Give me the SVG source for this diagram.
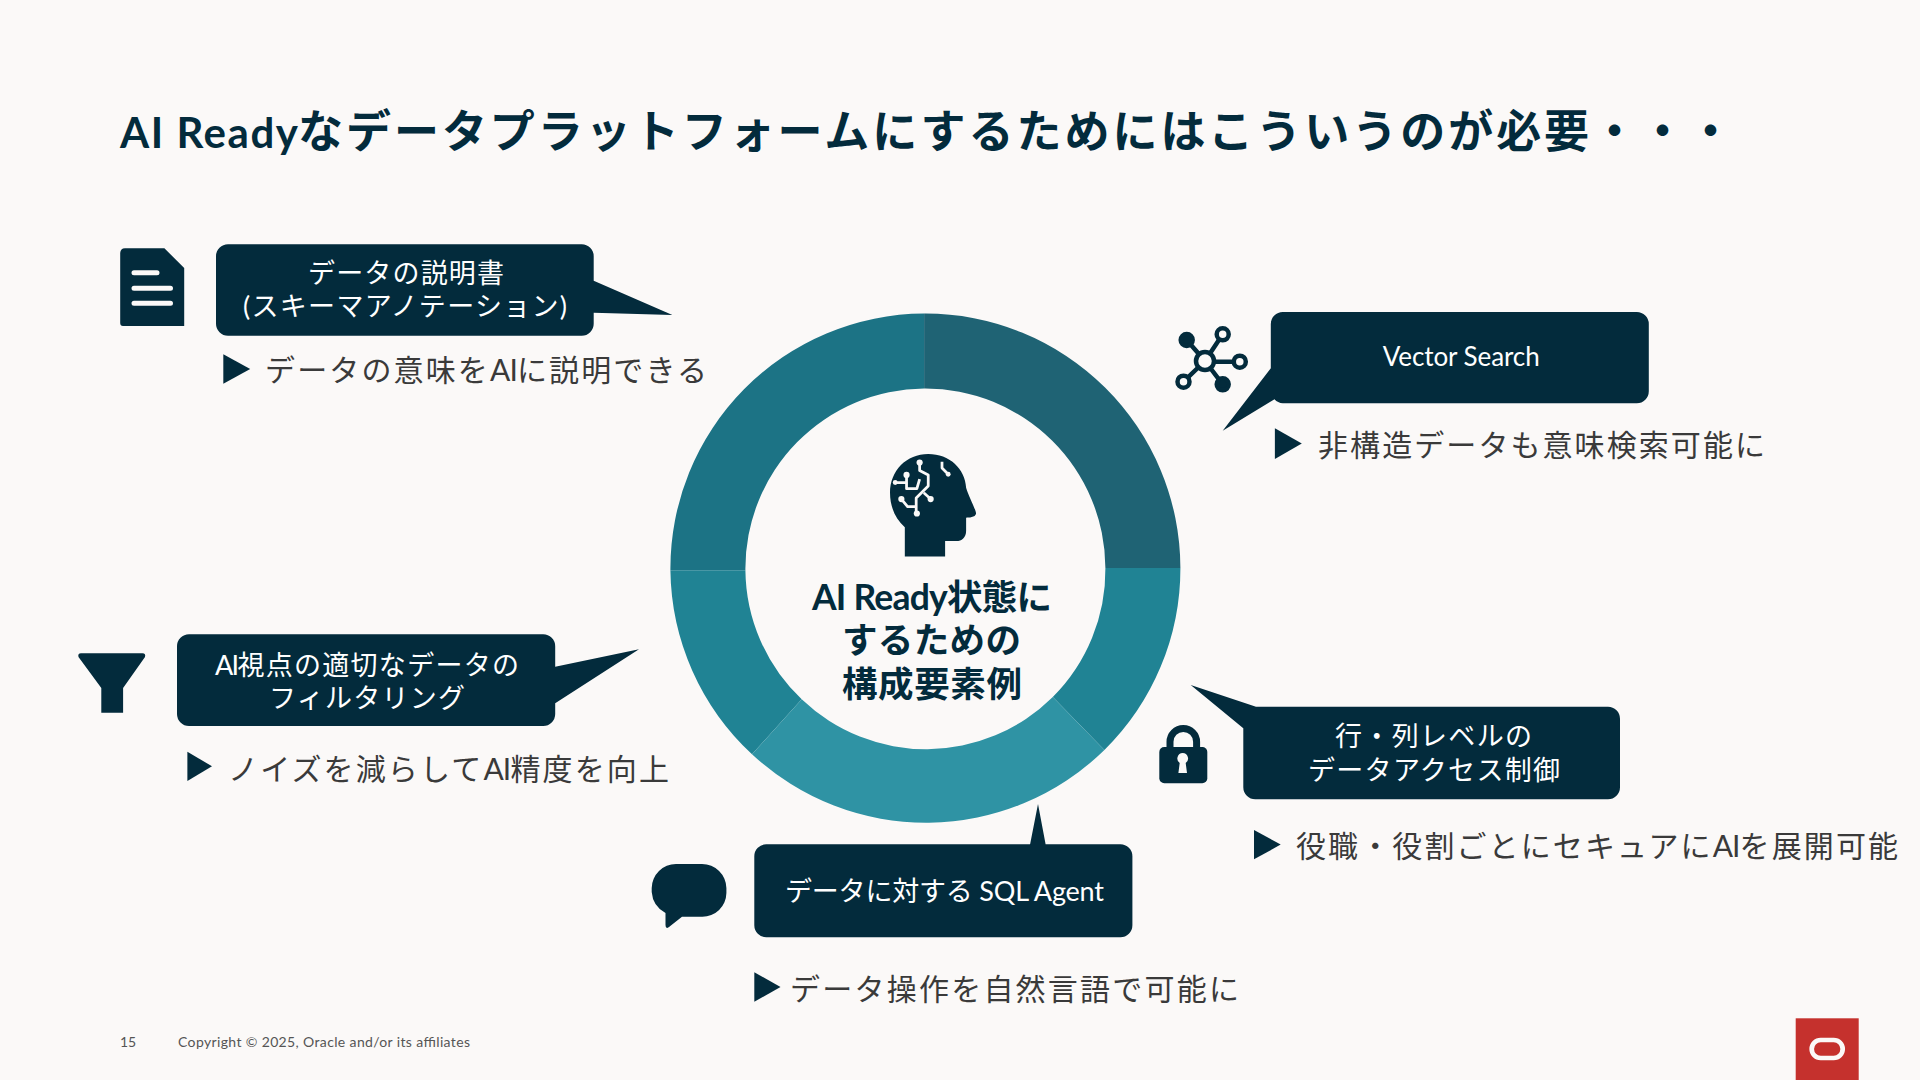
<svg xmlns="http://www.w3.org/2000/svg" width="1920" height="1080" viewBox="0 0 1920 1080">
<style>
text{font-family:Lato,"Noto Sans CJK JP",sans-serif}
.d{fill:#032b3c}
.bg{fill:#fbf9f8}
.t{font-size:45px;font-weight:700;fill:#032b3c}
.c{font-size:27px;fill:#fff}
.b{font-size:30px;fill:#3a3a3a}
.m{font-size:35.500px;font-weight:700;fill:#032b3c}
.f{font-size:14px;fill:#555}
.ln{stroke:#fbf9f8;stroke-width:5;stroke-linecap:round;fill:none}
.net{stroke:#032b3c;stroke-width:4.500;fill:none}
.a{letter-spacing:-3px}
</style>
<rect width="1920" height="1080" class="bg"/>
<g id="title">
<text class="t" x="120" y="148" textLength="178" style="font-size:42px">AI Ready</text>
<text class="t" x="298" y="148" textLength="1435">なデータプラットフォームにするためにはこういうのが必要・・・</text>
</g>

<g id="ring">
<path fill="#1c7385" d="M670.400 570.300A255 255 0 0 1 924.100 313.500V388.500A180 180 0 0 0 745.400 570.300Z"/>
<path fill="#1f6374" d="M924.100 313.500A255 255 0 0 1 1180.400 567.900H1105.400A180 180 0 0 0 924.100 388.500Z"/>
<path fill="#208394" d="M1180.400 567.900A255 255 0 0 1 1104.400 750L1052.800 697A180 180 0 0 0 1105.400 567.900Z"/>
<path fill="#208394" d="M752 754.200A255 255 0 0 1 670.400 570.300H745.400A180 180 0 0 0 801.700 699.300Z"/>
<path fill="#2f93a4" d="M1104.400 750A255 255 0 0 1 752 754.200L801.700 699.300A180 180 0 0 0 1052.800 697Z"/>
</g>

<g id="center">
<g transform="translate(650 300) scale(.34435)">
<path class="d" d="M740 745V660C712 635 697 600 697 560C697 495 745 447 808 447C870 447 915 490 918 545C925 570 945 605 947 620C945 632 925 632 918 632V670C918 690 905 700 890 700H857V745Z"/>
<g fill="none" stroke="#fbf9f8" stroke-width="8" stroke-linejoin="round">
<path d="M783 472V495L808 508V540L773 575V618"/>
<path d="M795 560L815 578"/>
<path d="M712 530H745V510"/>
<path d="M745 530V548H775L783 520"/>
<path d="M730 578L748 600H773"/>
<path d="M848 470V488L866 506"/>
</g>
<g fill="#fbf9f8">
<circle cx="783" cy="472" r="9"/><circle cx="745" cy="508" r="9"/><circle cx="815" cy="578" r="9"/><circle cx="730" cy="578" r="9"/><circle cx="775" cy="620" r="9"/><circle cx="866" cy="506" r="7"/><circle cx="712" cy="530" r="7"/>
</g>
</g>
<text class="m" x="812" y="610" textLength="240">AI Ready状態に</text>
<text class="m" x="842" y="653" textLength="179">するための</text>
<text class="m" x="842" y="697" textLength="180">構成要素例</text>
</g>

<g id="node-schema">
<path class="d" d="M125 248.300H164.400L184.200 268V326H123A3 3 0 0 1 120.200 323V253A5 5 0 0 1 125 248.300Z"/>
<path class="ln" d="M134 272.700H157M134 288.300H170.500M134 303.300H170.500"/>
<path class="d" d="M228 244.300H581.700a12 12 0 0 1 12 12V280.700L672.400 315L593.700 312.700V323.700a12 12 0 0 1-12 12H228a12 12 0 0 1-12-12V256.300a12 12 0 0 1 12-12Z"/>
<text class="c" x="308" y="283" textLength="196">データの説明書</text>
<text class="c" x="243" y="316" textLength="324">(スキーマアノテーション)</text>
<path class="d" d="M223.300 354.300L250.200 369L223.300 383.700Z"/>
<text class="b" x="265" y="381" textLength="442">データの意味を<tspan class="a">AI</tspan>に説明できる</text>
</g>

<g id="node-vector">
<g class="net">
<path d="M1186.700 340L1205 361M1222.700 334.300L1205 361M1239.800 361.700H1205M1183.500 381.700L1205 361M1222.700 384.300L1205 361"/>
<circle cx="1205" cy="361" r="9" fill="#fbf9f8"/>
<circle cx="1222.700" cy="334.300" r="6" fill="#fbf9f8"/>
<circle cx="1239.800" cy="361.700" r="6" fill="#fbf9f8"/>
<circle cx="1183.500" cy="381.700" r="6" fill="#fbf9f8"/>
<circle cx="1186.700" cy="340" r="6" fill="#032b3c"/>
<circle cx="1222.700" cy="384.300" r="6" fill="#032b3c"/>
</g>
<path class="d" d="M1282.800 312H1636.800a12 12 0 0 1 12 12V391.300a12 12 0 0 1-12 12H1282.800a12 12 0 0 1-8.300-4L1222.700 430.700L1270.800 368.300V324a12 12 0 0 1 12-12Z"/>
<text class="c" x="1382.700" y="366" textLength="157" style="font-size:26px">Vector Search</text>
<path class="d" d="M1274.900 428.300L1301.800 443.600L1274.900 459Z"/>
<text class="b" x="1318" y="456" textLength="447">非構造データも意味検索可能に</text>
</g>

<g id="node-filter">
<path class="d" d="M81 653.300H142.500Q146 653.300 145 657L123.100 688V712.700H101.300V688L78.500 657Q77.500 653.300 81 653.300Z"/>
<path class="d" d="M189 634.300H543.200a12 12 0 0 1 12 12V666.700L639 649.300L555.200 703.300V714a12 12 0 0 1-12 12H189a12 12 0 0 1-12-12V646.300a12 12 0 0 1 12-12Z"/>
<text class="c" x="215" y="675" textLength="304"><tspan class="a">AI</tspan>視点の適切なデータの</text>
<text class="c" x="269" y="708" textLength="196">フィルタリング</text>
<path class="d" d="M187.400 751.700L212 766.300L187.400 781Z"/>
<text class="b" x="228" y="780" textLength="441">ノイズを減らして<tspan class="a">AI</tspan>精度を向上</text>
</g>

<g id="node-access">
<path d="M1170 748V741.800a13.300 13.300 0 0 1 26.600 0V748" fill="none" stroke="#032b3c" stroke-width="7"/>
<rect class="d" x="1159.300" y="747" width="48" height="36.300" rx="5"/>
<path class="bg" d="M1182.700 753a5.500 5.500 0 0 1 3 10L1187 773H1178.400L1179.700 763a5.500 5.500 0 0 1 3-10Z"/>
<path class="d" d="M1256 706.700H1608a12 12 0 0 1 12 12V787.300a12 12 0 0 1-12 12H1255.300a12 12 0 0 1-12-12V728.300L1190.700 685Z"/>
<text class="c" x="1335" y="746" textLength="197">行・列レベルの</text>
<text class="c" x="1308" y="780" textLength="252">データアクセス制御</text>
<path class="d" d="M1254 830L1280.700 844.600L1254 859.300Z"/>
<text class="b" x="1296" y="857" textLength="602">役職・役割ごとにセキュアに<tspan class="a">AI</tspan>を展開可能</text>
</g>

<g id="node-sql">
<path class="d" d="M676 864H702A24.500 24.500 0 0 1 726.400 888V893A24 24 0 0 1 702 916.700H682L669 927Q665.500 929.500 665.500 925V913A26 26 0 0 1 651.700 892V888A24.500 24.500 0 0 1 676 864Z"/>
<path class="d" d="M766.300 844.300H1030.100L1038 804L1045.600 844.300H1120.400a12 12 0 0 1 12 12V925.300a12 12 0 0 1-12 12H766.300a12 12 0 0 1-12-12V856.300a12 12 0 0 1 12-12Z"/>
<text class="c" x="785" y="901" textLength="319">データに対する SQL Agent</text>
<path class="d" d="M754.300 972.300L780.500 987L754.300 1001.700Z"/>
<text class="b" x="790" y="1000" textLength="449">データ操作を自然言語で可能に</text>
</g>

<g id="footer">
<text class="f" x="120" y="1046.700" textLength="16">15</text>
<text class="f" x="178" y="1046.700" textLength="292">Copyright © 2025, Oracle and/or its affiliates</text>
<rect x="1795.700" y="1018.300" width="63" height="61.700" fill="#c5312d"/>
<rect x="1811.700" y="1040" width="31" height="18" rx="9" fill="none" stroke="#fbf9f8" stroke-width="4.700"/>
</g>
</svg>
